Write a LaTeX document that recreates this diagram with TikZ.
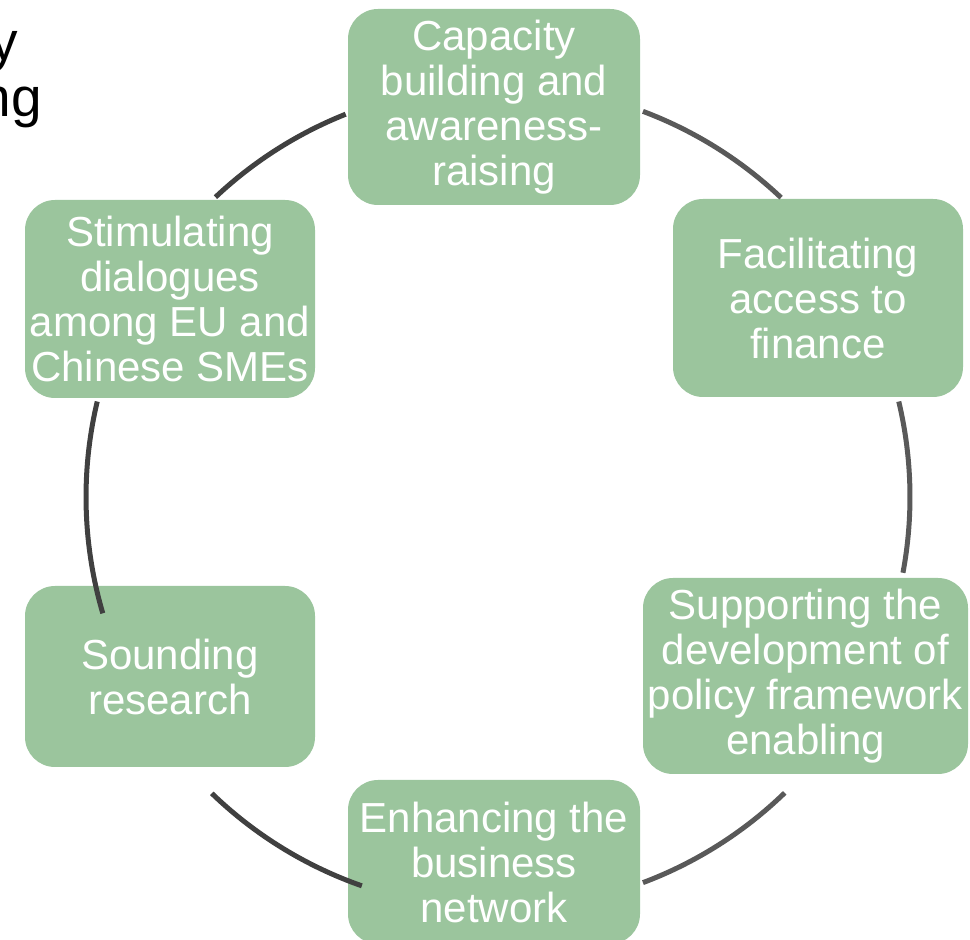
\documentclass[tikz,border=0pt]{standalone}
\usepackage{fontspec}
\setmainfont{Liberation Sans}
\usepackage{xcolor}
\usepackage{tikz}
\usetikzlibrary{calc}
\definecolor{boxcolor}{HTML}{9BC59D}
\definecolor{darkarc}{HTML}{404040}
\definecolor{lightarc}{HTML}{595959}

\begin{document}
\begin{tikzpicture}[x=1pt,y=1pt,
  stage/.style={fill=boxcolor, rounded corners=30pt, text=white, align=center, inner sep=0pt,
    font=\fontsize{42}{45}\selectfont}]
\useasboundingbox (0,0) rectangle (970,940);
\clip (0,0) rectangle (970,940);
%% cut-off heading in the corner
\node [anchor=base east, inner sep=0pt, font=\fontsize{55}{56}\selectfont] (headA) at (18,879) {y};
\node [anchor=base east, inner sep=0pt, font=\fontsize{55}{56}\selectfont] (headB) at (42,823) {ng};
\node [stage, minimum width=292pt, minimum height=196pt] (cap) at (494,833) {Capacity\\building and\\awareness-\\raising};
\node [stage, minimum width=290pt, minimum height=198pt] (fin) at (818,642) {Facilitating\\access to\\finance};
\node [stage, minimum width=325pt, minimum height=196pt] (pol) at (805.5,264) {Supporting the\\development of\\policy framework\\enabling};
\node [stage, minimum width=292pt, minimum height=164pt] (net) at (494,78) {Enhancing the\\business\\network};
\node [stage, minimum width=290pt, minimum height=181pt] (sound) at (170,263.5) {Sounding\\research};
\node [stage, minimum width=290pt, minimum height=198pt] (stim) at (170,641) {Stimulating\\dialogues\\among EU and\\Chinese SMEs};
%% ring, drawn over the box edges
\coordinate (ring) at (498,443);
\foreach \a/\b/\c in {111.7/133.3/darkarc, 69.4/46.6/lightarc, 13.4/-10.6/lightarc,
    -45.9/-69.4/lightarc, -109.3/-134/darkarc, 166.6/196.4/darkarc}
    \draw[\c, line width=5pt] (ring) ++(\a:412) arc[start angle=\a, end angle=\b, radius=412];
\end{tikzpicture}
\end{document}
